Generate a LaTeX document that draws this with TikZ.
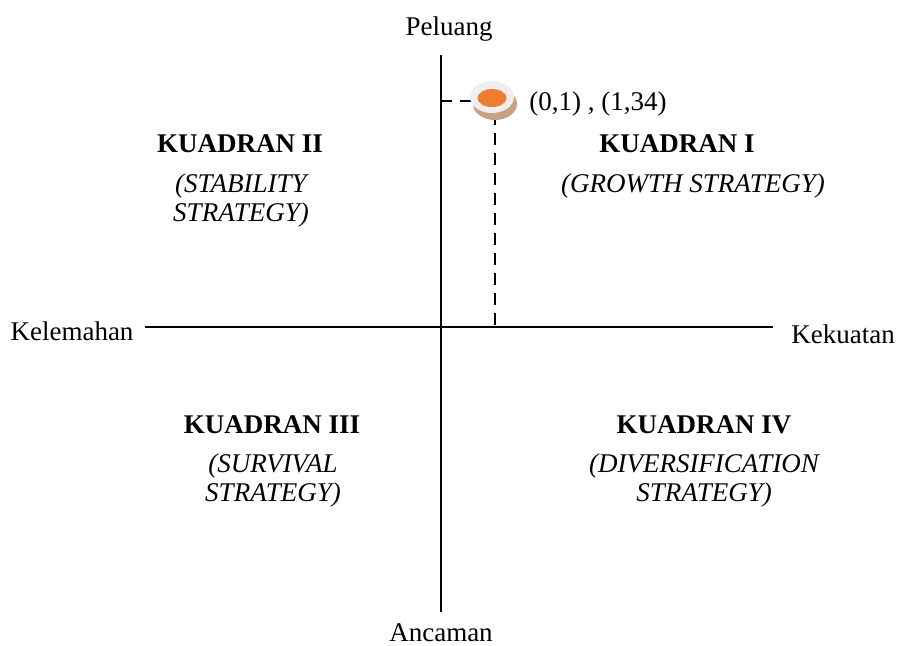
\documentclass[tikz,border=0pt]{standalone}
\usepackage{fontspec}
\setmainfont{Liberation Serif}
\usepackage{tikz}
\definecolor{abu}{HTML}{EFEFEF}
\definecolor{coklat}{HTML}{C9A084}
\definecolor{oranye}{HTML}{ED7D31}

\begin{document}
\begin{tikzpicture}[x=0.5pt,y=-0.5pt,font=\fontsize{13.5}{14.5}\selectfont,
sumbu/.style={line width=1pt,draw=black},
bantu/.style={line width=1pt,draw=black,dash pattern=on 6pt off 4pt},
judul/.style={font=\fontsize{13.5}{14.5}\selectfont\bfseries},
strategi/.style={font=\fontsize{13.5}{14.5}\selectfont\itshape,align=center},
ket/.style={inner sep=1pt}]
\useasboundingbox (0,0) rectangle (898,645);

% sumbu
\coordinate (atas) at (441,55);
\coordinate (bawah) at (441,612);
\coordinate (kiri) at (145,327);
\coordinate (kanan) at (773,327);
\draw[sumbu] (atas)--(bawah);
\draw[sumbu] (kiri)--(kanan);

\node[ket] (p) at (449,29) {Peluang};
\node[ket] (a) at (441,633) {Ancaman};
\node[ket] (l) at (72,331) {Kelemahan};
\node[ket] (k) at (843,334) {Kekuatan};

% titik posisi
\coordinate (tx) at (495,325);
\coordinate (ty) at (440,101);
\draw[bantu] (ty)--(472,101);
\draw[bantu] (tx)--(495,118);
\fill[coklat] (495,104) ellipse (22 and 16);
\fill[abu] (492,97) ellipse (22 and 16);
\fill[oranye] (492,98) ellipse (14.5 and 9);
\node[ket,anchor=west] (nilai) at (527,104) {(0,1) , (1,34)};

% kuadran
\node[judul] (q2) at (240,144) {KUADRAN II};
\node[strategi] (s2) at (241,200) {(STABILITY\\STRATEGY)};
\node[judul] (q1) at (677,144) {KUADRAN I};
\node[strategi] (s1) at (693,186) {(GROWTH STRATEGY)};
\node[judul] (q3) at (272,425) {KUADRAN III};
\node[strategi] (s3) at (273,480) {(SURVIVAL\\STRATEGY)};
\node[judul] (q4) at (704,425) {KUADRAN IV};
\node[strategi] (s4) at (704,480) {(DIVERSIFICATION\\STRATEGY)};
\end{tikzpicture}
\end{document}
